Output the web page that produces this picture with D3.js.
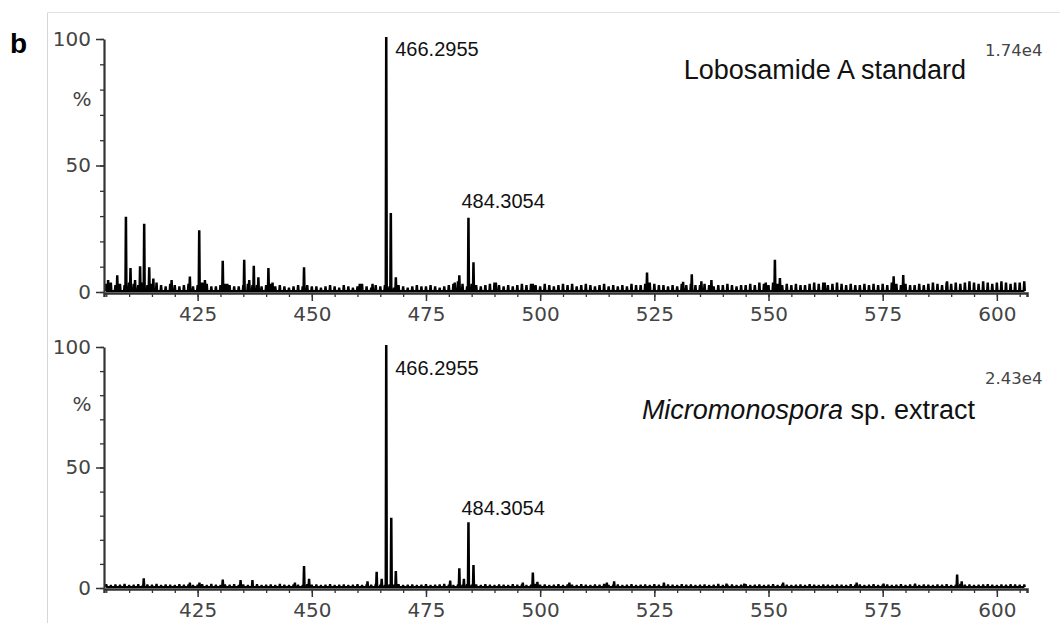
<!DOCTYPE html>
<html>
<head>
<meta charset="utf-8">
<script src="https://cdn.jsdelivr.net/npm/d3@7/dist/d3.min.js"></script>
<style>
body { margin:0; background:#fff; }
svg { display:block; }
.axis text { font-family:"DejaVu Sans", Verdana, sans-serif; font-size:20px; fill:#444; }
.axis path, .axis line { stroke:#333; }
.ann { font-family:"Liberation Sans", Arial, sans-serif; fill:#111; }
.scaleLbl { font-family:"DejaVu Sans", Verdana, sans-serif; font-size:16.5px; fill:#444; }
</style>
</head>
<body>
<svg id="chart" width="1060" height="623"></svg>
<script>
// m/z range shown and axis ticks
var mzDomain = [404.5, 606.6];
var xMajorTicks = [425, 450, 475, 500, 525, 550, 575, 600];
var yMajorTicks = [0, 50, 100];

// top trace: Lobosamide A standard  [m/z, relative %]
var topPeaks = [[405.4,4],[407.4,5.8],[409.3,29],[410.3,8.7],[411.3,4],[412.4,9.4],[413.3,26.2],[414.4,9],
  [415.3,4.5],[419.3,4],[423.3,5.3],[425.35,23.6],[426.6,4],[430.5,11.6],[431.5,2.5],[435.2,12],[436.3,4],
  [437.3,9.6],[438.3,5],[440.5,8.7],[441.4,3],[448.3,9],[460.5,2.5],[463.3,2.5],[466.3,100],[467.3,30.4],
  [468.4,5],[481.3,3],[482.3,5.8],[484.3,28.6],[485.4,11],[490.3,3],[498.4,2.5],[523.4,6.9],[531.3,3.3],
  [533.2,6.2],[535.3,3.5],[537.5,4],[549.4,3],[551.4,12],[552.5,4.7],[562.3,3],[577.4,5.4],[579.5,5.9],[589.1,3.5]];
// baseline noise, one value per m/z unit starting at 405
var topNoiseStart = 405;
var topNoise = [2.5,3,2,2.5,2,3,2.5,2,3,2, 2.5,3,2,1.5,2.5,2,1.5,2,2.5,1.5,
  2,3,2.5,1.5,1.5,2,2.5,2,1.5,1.5, 2,2.5,2,2,1.5,2,2.5,1.5,2,1.5,
  1,1.5,2,1.5,2,1.5,1.5,1,1.5,2, 1.5,1,2,1.5,1,1.5,2.5,1.5,1,2,
  1.5,2,1.5,1,2,1.5,1,1.5,2,1.5, 1.5,2,1.5,1,1.5,2,2.5,3.5,2.5,1.5,
  2.5,2,1.5,2,2.5,3,2,1.5,2,1.5, 2,2.5,2,2.5,2,1.5,2.5,2,1.5,2,
  2.5,2,2.5,1.5,2,2.5,2,1.5,2,2.5, 1.5,2,1.5,2,1.5,2.5,2,2,2.5,3,
  2.5,2,2,1.5,2,1.5,2.5,2,2.5,2, 2,2.5,2,1.5,2,2,2.5,2,1.5,2,
  2,2.5,2,3,2.5,2,3,2.5,2,2.5, 2,2.5,2,2,2.5,3,2.5,3,2,2.5,
  3,2.5,2,2.5,2,2,2.5,2,2.5,2, 2.5,2,3,2.5,2,2.5,2,2,2.5,2,
  2.5,3,2.5,2,3,2.5,3,2.5,3,3.5, 3,2.5,3.5,3,2.5,3,3.5,3,2.5,3, 3,3.5];

// bottom trace: Micromonospora sp. extract
var bottomPeaks = [[413.2,3.2],[423.3,1.5],[425.4,1.5],[430.5,2.7],[434.4,2.5],[437,2.5],[446.3,1.5],[448.3,8.3],
  [449.4,3],[462.2,2],[464.2,5.9],[465.3,3],[466.3,100],[467.4,28.3],[468.4,6.2],[480.3,2.3],[482.3,7.4],
  [483.3,3],[484.3,26.5],[485.4,8.7],[496.2,1.5],[498.4,5.6],[499.4,1.8],[506.4,1.5],[514.6,1.5],[516.2,2],
  [527.1,1.5],[540.8,1],[544.7,1],[553.2,1.5],[569.3,1.5],[575.2,1],[582.1,1],[591.3,4.8],[592.3,2]];
var bottomNoiseStart = 405;
var bottomNoise = [0.8,0.5,0.7,0.6,0.9,0.5,0.6,0.8,0.5,0.7, 0.6,0.9,0.5,0.7,0.6,0.5,0.8,0.6,0.7,0.5,
  0.6,0.8,0.5,0.9,0.6,0.5,0.7,0.6,0.8,0.5, 0.7,0.5,0.6,0.8,0.5,0.6,0.7,0.5,0.9,0.6,
  0.5,0.7,0.6,0.5,0.8,0.6,0.7,0.5,0.6,0.8, 0.5,0.6,0.7,0.5,0.6,0.8,0.5,0.7,0.6,0.9,
  0.6,0.5,0.7,0.6,0.8,0.5,0.6,0.7,0.5,0.6, 0.8,0.5,0.6,0.7,0.9,0.6,0.5,0.7,0.6,0.8,
  0.6,0.7,0.5,0.8,0.6,0.5,0.7,0.6,0.5,0.8, 0.6,0.7,0.5,0.6,0.9,0.6,0.7,0.5,0.6,0.8,
  0.5,0.7,0.6,0.5,0.8,0.6,0.5,0.7,0.6,0.9, 0.5,0.6,0.7,0.5,0.6,0.8,0.5,0.6,0.7,0.5,
  0.8,0.6,0.5,0.7,0.6,0.5,0.8,0.6,0.7,0.5, 0.6,0.7,0.5,0.6,0.9,0.5,0.6,0.7,0.5,0.6,
  0.8,0.5,0.6,0.7,0.5,0.6,0.8,0.5,0.7,0.6, 0.5,0.6,0.7,0.5,0.8,0.6,0.5,0.7,0.6,0.5,
  0.7,0.6,0.5,0.8,0.6,0.7,0.5,0.6,0.8,0.5, 0.6,0.7,0.5,0.6,0.8,0.5,0.7,0.6,0.5,0.7,
  0.6,0.5,0.7,0.6,0.8,0.5,0.6,0.9,0.6,0.7, 0.5,0.6,0.7,0.8,0.6,0.5,0.7,0.6,0.8,0.7, 0.6,0.7];

var topLabels = [{text:"466.2955", mz:466.3, dx:9, dy:17}, {text:"484.3054", mz:484.3, dx:-7, dy:-12}];
var bottomLabels = [{text:"466.2955", mz:466.3, dx:9, dy:28}, {text:"484.3054", mz:484.3, dx:-7, dy:-9}];

var svg = d3.select("#chart");

// light frame around the figure
svg.append("line").attr("x1",47.5).attr("x2",47.5).attr("y1",12.5).attr("y2",623)
    .attr("stroke","#d6d6d6").attr("stroke-width",1);
svg.append("line").attr("x1",47.5).attr("x2",1060).attr("y1",12.5).attr("y2",12.5)
    .attr("stroke","#e2e2e2").attr("stroke-width",1);

svg.append("text").attr("x",10).attr("y",53)
    .attr("font-family","Liberation Sans, Arial, sans-serif").attr("font-weight","bold")
    .attr("font-size",28).text("b");

var x = d3.scaleLinear().domain(mzDomain).range([104, 1027]);

function drawPanel(peaks, noise, noiseStart, yRange, labels, scaleText, scaleY, titleFn)
{
    var y = d3.scaleLinear().domain([0,100]).range(yRange);
    var g = svg.append("g");

    //sticks = peaks + noise, sorted by m/z
    var sticks = peaks.slice();
    noise.forEach(function(v, i){ sticks.push([noiseStart + i, v]); });
    sticks.sort(function(a,b){ return a[0]-b[0]; });

    var pts = [];
    sticks.forEach(function(s){
        pts.push([s[0]-0.16, 0]);
        pts.push([s[0]-0.06, s[1]]);
        pts.push([s[0]+0.06, s[1]]);
        pts.push([s[0]+0.16, 0]);
    });
    var line = d3.line()
        .x(function(d){ return x(d[0]); })
        .y(function(d){ return y(d[1]) - 1; });
    g.append("path").datum(pts)
        .attr("d", line)
        .attr("fill","none")
        .attr("stroke","#000")
        .attr("stroke-width",2)
        .attr("stroke-linejoin","miter");

    // x axis
    var y0 = yRange[0];
    g.append("g").attr("class","axis").attr("transform","translate(0," + (y0+1) + ")")
        .call(d3.axisBottom(x).tickValues(d3.range(405, 607, 5)).tickSize(4).tickFormat(""))
        .call(function(a){ a.select(".domain").attr("stroke-width",2.5); a.selectAll("line").attr("stroke-width",1.3); });
    g.append("g").attr("class","axis").attr("transform","translate(0," + (y0+1) + ")")
        .call(d3.axisBottom(x).tickValues(xMajorTicks).tickSize(8).tickPadding(6).tickFormat(d3.format("d")))
        .call(function(a){ a.select(".domain").remove(); a.selectAll("line").attr("stroke-width",1.5); });

    // y axis
    g.append("g").attr("class","axis").attr("transform","translate(104,0)")
        .call(d3.axisLeft(y).tickValues(d3.range(0, 101, 10)).tickSize(4).tickSizeOuter(0).tickFormat(""))
        .call(function(a){ a.select(".domain").attr("stroke-width",2.2); a.selectAll("line").attr("stroke-width",1.3); });
    g.append("g").attr("class","axis").attr("transform","translate(104,0)")
        .call(d3.axisLeft(y).tickValues(yMajorTicks).tickSize(8).tickPadding(5))
        .call(function(a){ a.select(".domain").remove(); a.selectAll("line").attr("stroke-width",1.5); });

    g.append("text").attr("x",82).attr("y",y(73.5))
        .attr("text-anchor","middle").attr("font-family","DejaVu Sans, Verdana, sans-serif")
        .attr("font-size",20).attr("fill","#444").text("%");

    // peak annotations
    labels.forEach(function(l){
        var pk = peaks.filter(function(p){ return Math.abs(p[0]-l.mz) < 0.2; })[0];
        g.append("text").attr("class","ann")
            .attr("x", x(pk[0]) + l.dx)
            .attr("y", y(pk[1]) + l.dy)
            .attr("font-size",20)
            .text(l.text);
    });

    g.append("text").attr("class","scaleLbl").attr("x",985).attr("y",scaleY).text(scaleText);
    titleFn(g);
}

drawPanel(topPeaks, topNoise, topNoiseStart, [292, 39], topLabels, "1.74e4", 56, function(g){
    g.append("text").attr("class","ann").attr("x",966).attr("y",79)
        .attr("text-anchor","end").attr("font-size",27).text("Lobosamide A standard");
});
drawPanel(bottomPeaks, bottomNoise, bottomNoiseStart, [588, 347], bottomLabels, "2.43e4", 384, function(g){
    var t = g.append("text").attr("class","ann").attr("x",975).attr("y",419)
        .attr("text-anchor","end").attr("font-size",27);
    t.append("tspan").attr("font-style","italic").text("Micromonospora");
    t.append("tspan").text(" sp. extract");
});
</script>
</body>
</html>
